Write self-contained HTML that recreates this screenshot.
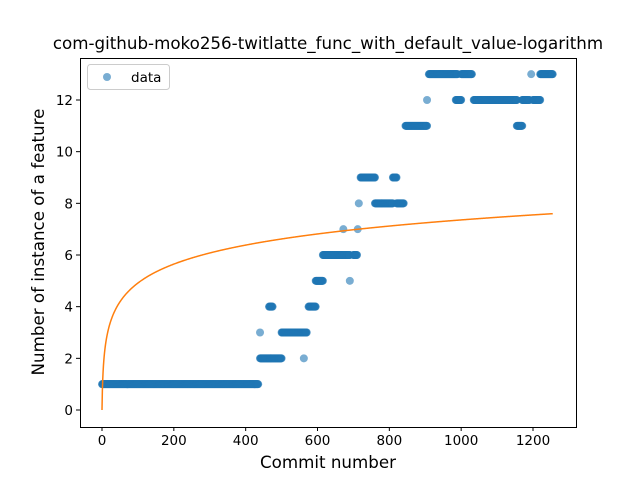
<!DOCTYPE html>
<html><head><meta charset="utf-8"><style>
body{margin:0;background:#fff;}
svg{font-family:"DejaVu Sans","Liberation Sans",sans-serif;}
</style></head><body>
<svg id="chart" width="640" height="480">
<rect width="640" height="480" fill="#fff"/>
<text x="328" y="49" text-anchor="middle" font-size="16.7">com-github-moko256-twitlatte_func_with_default_value-logarithm</text>
<g id="marks"></g>
<g id="axes"></g>
<text x="328" y="468" text-anchor="middle" font-size="16.7">Commit number</text>
<text transform="translate(44,242) rotate(-90)" text-anchor="middle" font-size="16.7">Number of instance of a feature</text>
<g>
<rect x="87.5" y="64.5" width="82" height="25" rx="3" fill="#fff" fill-opacity="0.8" stroke="#ccc"/>
<circle cx="107" cy="77" r="4" fill="#1f77b4" fill-opacity="0.6"/>
<text x="131" y="82" font-size="13.5">data</text>
</g>
</svg>
<script>
const runStarts = [0,440,440,465,470,500,562,575,595,615,672,690,700,712,715,720,760,810,820,845,905,910,985,1000,1035,1155,1170,1195,1200,1220];
const runEnds   = [435,440,470,475,500,570,562,595,615,690,672,690,710,712,715,760,810,820,840,905,905,990,1000,1030,1155,1170,1190,1195,1220,1255];
const runValues = [1,3,2,4,2,3,2,4,5,6,7,5,6,7,8,9,8,9,8,11,12,13,12,13,12,11,12,13,12,13];
const fitCoef = 1.065;
const fitMaxX = 1255;
const xTicks = [0,200,400,600,800,1000,1200];
const yTicks = [0,2,4,6,8,10,12];

const L=80,R=576,T=58,B=427;
const xs = v => 102 + v*(431/1200);
const ys = v => 410 - v*(310/12);
const NS='http://www.w3.org/2000/svg';
const marks=document.getElementById('marks');
const axes=document.getElementById('axes');
function mk(tag,attrs,parent){const e=document.createElementNS(NS,tag);for(const k in attrs)e.setAttribute(k,attrs[k]);parent.appendChild(e);return e;}

for(let i=0;i<runStarts.length;i++){
  for(let x=runStarts[i];x<=runEnds[i];x+=1){
    const c=mk('circle',{cx:xs(x),cy:ys(runValues[i]),r:4,fill:'#1f77b4','fill-opacity':0.6},marks);
    
    
  }
}
let d='';
for(let x=0;x<=fitMaxX;x+=1){d+=(x?'L':'M')+xs(x).toFixed(2)+','+ys(fitCoef*Math.log(x+1)).toFixed(2);}
const fit=mk('path',{d:d,fill:'none',stroke:'#ff7f0e','stroke-width':1.5},marks);



const frame=mk('rect',{x:L+0.5,y:T+0.5,width:R-L,height:B-T,fill:'none',stroke:'#000','stroke-width':1},axes);


xTicks.forEach(t=>{
  const x=xs(t);
  mk('line',{x1:x,x2:x,y1:B,y2:B+4,stroke:'#000'},axes);
  const tx=mk('text',{x:x,y:B+18,'text-anchor':'middle','font-size':13.5},axes);
  tx.textContent=t;
  
  
});
yTicks.forEach(t=>{
  const y=ys(t);
  mk('line',{x1:L-4,x2:L,y1:y,y2:y,stroke:'#000'},axes);
  const tx=mk('text',{x:L-7,y:y+5,'text-anchor':'end','font-size':13.5},axes);
  tx.textContent=t;
  
  
});
</script>
</body></html>
